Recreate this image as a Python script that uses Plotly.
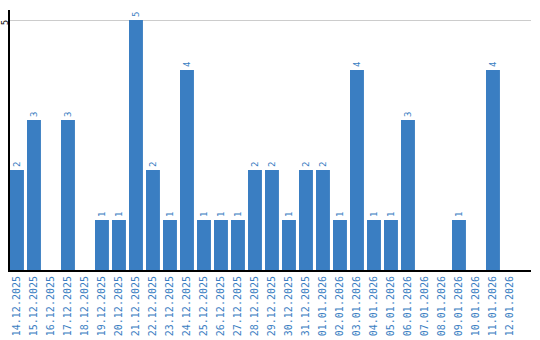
import plotly.graph_objects as go

dates = ["14.12.2025","15.12.2025","16.12.2025","17.12.2025","18.12.2025","19.12.2025",
         "20.12.2025","21.12.2025","22.12.2025","23.12.2025","24.12.2025","25.12.2025",
         "26.12.2025","27.12.2025","28.12.2025","29.12.2025","30.12.2025","31.12.2025",
         "01.01.2026","02.01.2026","03.01.2026","04.01.2026","05.01.2026","06.01.2026",
         "07.01.2026","08.01.2026","09.01.2026","10.01.2026","11.01.2026","12.01.2026"]
counts = [2,3,0,3,0,1,1,5,2,1,4,1,1,1,2,2,1,2,2,1,4,1,1,3,0,0,1,0,4,0]
y_ticks = [5]

blue = "#3a7ec2"
labels = [str(v) if v > 0 else "" for v in counts]

fig = go.Figure(go.Bar(
    x=dates, y=counts, marker=dict(color=blue, line=dict(width=0)),
    width=0.82, text=labels, textposition="outside", textangle=-90,
    textfont=dict(family="DejaVu Sans Mono", size=9, color=blue),
    constraintext="none", cliponaxis=False,
))

for t in y_ticks:
    fig.add_annotation(x=0, xref="paper", y=t, yref="y", text=str(t),
                       showarrow=False, textangle=-90, xanchor="center", yanchor="middle",
                       xshift=-5, yshift=-3,
                       font=dict(family="DejaVu Sans", size=8, color="black"))

fig.update_layout(
    width=540, height=340, margin=dict(l=10, r=9, t=10, b=70),
    paper_bgcolor="white", plot_bgcolor="white", showlegend=False,
    xaxis=dict(type="category", range=[-0.41, -0.41 + 521/17], tickangle=-90,
               tickfont=dict(family="DejaVu Sans Mono", size=10, color=blue),
               showline=True, linecolor="black", linewidth=2, showgrid=False,
               ticks="", ticklen=0, automargin=False),
    yaxis=dict(range=[0, 5.2], tickvals=y_ticks, showticklabels=False,
               showline=True, linecolor="black", linewidth=2,
               showgrid=True, gridcolor="#cccccc", gridwidth=1, zeroline=False,
               ticks="", automargin=False),
)
fig.write_html("out.html")
